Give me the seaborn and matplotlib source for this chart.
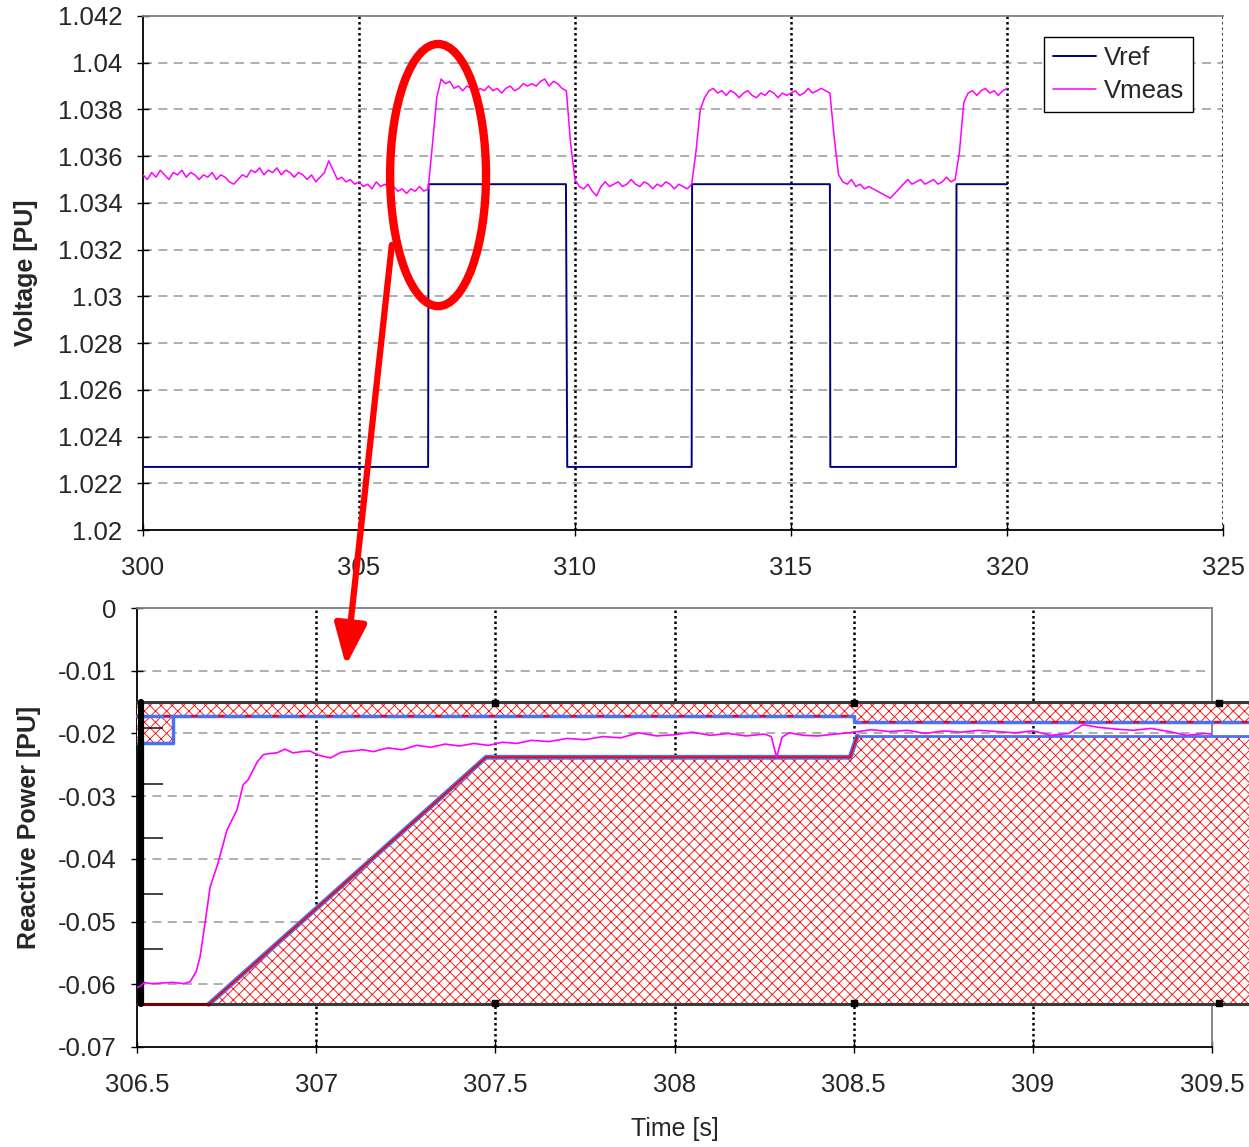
import numpy as np
import matplotlib
matplotlib.use("Agg")
import matplotlib.pyplot as plt
import seaborn as sns
from matplotlib.patches import Ellipse, ConnectionPatch

sns.set_style("white")
plt.rcParams['font.family'] = ['Liberation Sans', 'DejaVu Sans']
plt.rcParams['hatch.linewidth'] = 0.6
plt.rcParams['hatch.color'] = 'red'

# ---- top panel: voltage reference / measured
vref_t = [300.0, 306.6, 306.61, 309.79, 309.82, 312.7, 312.71, 315.9, 315.91, 318.82, 318.83, 320.0]
vref_v = [1.0227, 1.0227, 1.0348, 1.0348, 1.0227, 1.0227, 1.0348, 1.0348, 1.0227, 1.0227, 1.0348, 1.0348]

vmeas_t = np.round(np.arange(300.0, 320.05, 0.1), 1)
vmeas_v = [
    1.0352, 1.0350, 1.0353, 1.0351, 1.0354, 1.0352, 1.0350, 1.0353, 1.0352, 1.0354,
    1.0351, 1.0353, 1.0352, 1.0350, 1.0352, 1.0351, 1.0353, 1.0350, 1.0352, 1.0351,
    1.0349, 1.0348, 1.0350, 1.0352, 1.0351, 1.0354, 1.0353, 1.0355, 1.0352, 1.0354,
    1.0353, 1.0355, 1.0352, 1.0354, 1.0353, 1.0351, 1.0353, 1.0352, 1.0350, 1.0352,
    1.0349, 1.0351, 1.0353, 1.0358, 1.0354, 1.0350, 1.0351, 1.0349, 1.0350, 1.0348,
    1.0349, 1.0347, 1.0348, 1.0346, 1.0349, 1.0347, 1.0348, 1.0346, 1.0347, 1.0345,
    1.0346, 1.0344, 1.0346, 1.0345, 1.0347, 1.0345, 1.0346, 1.0365, 1.0385, 1.0393,
    1.0391, 1.0392, 1.0389, 1.0390, 1.0388, 1.0390, 1.0389, 1.0387, 1.0389, 1.0388,
    1.0390, 1.0388, 1.0389, 1.0387, 1.0389, 1.0390, 1.0388, 1.0389, 1.0391, 1.0390,
    1.0391, 1.0390, 1.0392, 1.0393, 1.0390, 1.0392, 1.0391, 1.0389, 1.0388, 1.0365,
    1.0350, 1.0347, 1.0346, 1.0348, 1.0345, 1.0343, 1.0347, 1.0349, 1.0347, 1.0348,
    1.0349, 1.0347, 1.0348, 1.0350, 1.0348, 1.0347, 1.0349, 1.0348, 1.0346, 1.0348,
    1.0347, 1.0349, 1.0348, 1.0346, 1.0348, 1.0347, 1.0346, 1.0348, 1.0362, 1.0380,
    1.0385, 1.0388, 1.0389, 1.0387, 1.0388, 1.0386, 1.0388, 1.0387, 1.0385, 1.0387,
    1.0388, 1.0386, 1.0385, 1.0387, 1.0386, 1.0388, 1.0387, 1.0385, 1.0387, 1.0386,
    1.0387, 1.0388, 1.0386, 1.0387, 1.0389, 1.0387, 1.0388, 1.0389, 1.0388, 1.0387,
    1.0368, 1.0352, 1.0349, 1.0348, 1.0350, 1.0347, 1.0348, 1.0346, 1.0347, 1.0346,
    1.0345, 1.0344, 1.0343, 1.0342, 1.0344, 1.0346, 1.0348, 1.0350, 1.0348, 1.0349,
    1.0350, 1.0348, 1.0349, 1.0350, 1.0348, 1.0349, 1.0351, 1.0349, 1.0350, 1.0362,
    1.0383, 1.0387, 1.0388, 1.0386, 1.0388, 1.0389, 1.0387, 1.0388, 1.0386, 1.0388,
    1.0389,
]

top_xticks = [300, 305, 310, 315, 320, 325]
top_xlabels = ['300', '305', '310', '315', '320', '325']
top_yticks = [1.02, 1.022, 1.024, 1.026, 1.028, 1.03, 1.032, 1.034, 1.036, 1.038, 1.04, 1.042]
top_ylabels = ['1.02', '1.022', '1.024', '1.026', '1.028', '1.03', '1.032', '1.034', '1.036', '1.038', '1.04', '1.042']

# ---- bottom panel: reactive power
q_t = [306.5, 306.51, 306.52, 306.54, 306.57, 306.6, 306.63, 306.648, 306.665, 306.676,
       306.69, 306.704, 306.726, 306.751, 306.779, 306.796, 306.81, 306.835, 306.852, 306.87,
       306.89, 306.913, 306.935, 306.96, 306.983, 307.002, 307.04, 307.07, 307.1, 307.13,
       307.16, 307.2, 307.24, 307.28, 307.32, 307.36, 307.4, 307.44, 307.48, 307.52,
       307.56, 307.6, 307.65, 307.7, 307.75, 307.8, 307.85, 307.9, 307.95, 308.0,
       308.05, 308.1, 308.15, 308.2, 308.25, 308.27, 308.285, 308.3, 308.32, 308.36,
       308.4, 308.45, 308.5, 308.55, 308.6, 308.65, 308.7, 308.75, 308.8, 308.85,
       308.9, 308.95, 309.0, 309.05, 309.1, 309.14, 309.18, 309.23, 309.28, 309.33,
       309.38, 309.43, 309.48, 309.5]
q_v = [-0.0605, -0.0603, -0.0597, -0.0599, -0.0598, -0.0597, -0.0599, -0.0596, -0.0580, -0.0556,
       -0.0502, -0.0445, -0.0407, -0.0354, -0.0322, -0.0282, -0.0274, -0.0246, -0.0234, -0.0232,
       -0.0231, -0.0225, -0.0231, -0.0229, -0.0228, -0.0234, -0.0239, -0.0230, -0.0228, -0.0226,
       -0.0229, -0.0223, -0.0226, -0.0219, -0.0222, -0.0217, -0.0220, -0.0216, -0.0219, -0.0214,
       -0.0216, -0.0211, -0.0213, -0.0208, -0.0210, -0.0205, -0.0207, -0.0199, -0.0204, -0.0202,
       -0.0198, -0.0203, -0.0200, -0.0204, -0.0201, -0.0205, -0.0238, -0.0206, -0.0199, -0.0203,
       -0.0204, -0.0201, -0.0198, -0.0194, -0.0197, -0.0195, -0.0200, -0.0196, -0.0198, -0.0195,
       -0.0197, -0.0199, -0.0196, -0.0203, -0.0200, -0.0186, -0.0190, -0.0193, -0.0195, -0.0192,
       -0.0197, -0.0203, -0.0200, -0.0201]

# hatched limit regions
band_x = [306.5, 308.5, 308.5, 309.605]
band_hi = [-0.015, -0.015, -0.015, -0.015]
band_lo = [-0.0172, -0.0172, -0.0182, -0.0182]
block_x = [306.5, 306.6]
block_hi = [-0.015, -0.015]
block_lo = [-0.0215, -0.0215]
low_x = [306.7, 307.474, 308.49, 308.51, 309.605]
low_hi = [-0.0632, -0.0238, -0.0238, -0.0204, -0.0204]
low_lo = [-0.0632, -0.0632, -0.0632, -0.0632, -0.0632]
mark_x = [307.5, 308.5, 309.52]
left_ticks_y = [-0.0191, -0.0280, -0.0367, -0.0456, -0.0544]

bot_xticks = [306.5, 307, 307.5, 308, 308.5, 309, 309.5]
bot_xlabels = ['306.5', '307', '307.5', '308', '308.5', '309', '309.5']
bot_yticks = [0, -0.01, -0.02, -0.03, -0.04, -0.05, -0.06, -0.07]
bot_ylabels = ['0', '-0.01', '-0.02', '-0.03', '-0.04', '-0.05', '-0.06', '-0.07']

TICK_FS = 18.5
LABEL_FS = 18


def draw_grid(ax, xs, ys):
    for y in ys:
        ax.axhline(y, color='#a8a8a8', lw=1.3, ls=(0, (5, 3.5)), zorder=0.5)
    for x in xs:
        ax.axvline(x, color='black', lw=1.8, ls=(0, (1, 1.2)), zorder=0.6)


def style_axes(ax):
    ax.tick_params(axis='both', direction='inout', length=8, width=1, color='black',
                   labelsize=TICK_FS, left=True, bottom=True)
    ax.tick_params(axis='y', pad=11)
    ax.tick_params(axis='x', pad=15)
    for s in ['left', 'bottom']:
        ax.spines[s].set_color('black')
        ax.spines[s].set_linewidth(1.3)
    ax.spines['top'].set_color('#808080')
    ax.spines['top'].set_linewidth(1.3)


fig = plt.figure(figsize=(12.49, 11.47), dpi=100)
ax1 = fig.add_axes([0.1145, 0.5379, 0.8647, 0.4482])
ax2 = fig.add_axes([0.1097, 0.0872, 0.8607, 0.3827])

# ---------- top
draw_grid(ax1, [305, 310, 315, 320, 325], top_yticks[1:-1])
sns.lineplot(x=vref_t, y=vref_v, ax=ax1, color='#000080', lw=1.4,
             estimator=None, sort=False, label='Vref', zorder=3)
sns.lineplot(x=vmeas_t, y=vmeas_v, ax=ax1, color='#ff00ff', lw=1.1,
             estimator=None, sort=False, label='Vmeas', zorder=3)
ax1.set_xlim(300, 325)
ax1.set_ylim(1.02, 1.042)
ax1.set_xticks(top_xticks)
ax1.set_xticklabels(top_xlabels)
ax1.set_yticks(top_yticks)
ax1.set_yticklabels(top_ylabels)
ax1.set_xlabel('')
ax1.set_ylabel('Voltage [PU]', fontsize=LABEL_FS, fontweight='bold', labelpad=14)
style_axes(ax1)
ax1.spines['right'].set_visible(False)
leg = ax1.legend(loc='upper right', bbox_to_anchor=(0.972, 0.959), borderaxespad=0,
                 fontsize=TICK_FS, frameon=True, fancybox=False, edgecolor='black',
                 framealpha=1, handlelength=1.65, handletextpad=0.3, borderpad=0.35,
                 labelspacing=0.35)
leg.get_frame().set_linewidth(1.0)

# ---------- bottom
draw_grid(ax2, [307, 307.5, 308, 308.5, 309], bot_yticks[1:-1])
for xs, hi, lo in [(band_x, band_hi, band_lo), (block_x, block_hi, block_lo), (low_x, low_hi, low_lo)]:
    ax2.fill_between(xs, lo, hi, facecolor='white', edgecolor='red', hatch='xxx',
                     linewidth=0, zorder=2.6, clip_on=False)

blue = '#4a72f0'
ax2.plot(band_x, band_lo, color=blue, lw=2.5, zorder=2.7, clip_on=False)
ax2.plot(band_x, band_lo, color='red', lw=1.5, ls=(0, (3, 10)), zorder=2.8, clip_on=False)
ax2.plot([306.5, 306.6, 306.6], [-0.0215, -0.0215, -0.0172], color=blue, lw=2.5, zorder=2.7)
ax2.plot(low_x[:4], low_hi[:4], color=blue, lw=3.5, zorder=2.7, clip_on=False)
ax2.plot(low_x[:4], low_hi[:4], color='red', lw=1.3, zorder=2.8, clip_on=False)
ax2.plot(low_x[3:], low_hi[3:], color=blue, lw=2.0, zorder=2.7, clip_on=False)
ax2.plot([306.5, 309.605], [-0.015, -0.015], color='#3a3a3a', lw=2.2, zorder=2.9, clip_on=False)
ax2.plot([306.5, 309.605], [-0.0632, -0.0632], color='#3a3a3a', lw=2.2, zorder=2.9, clip_on=False)
ax2.plot([306.5, 306.7], [-0.0632, -0.0632], color='#7a0000', lw=2.2, zorder=3)
ax2.hlines(left_ticks_y, 306.517, 306.573, color='#222222', lw=1.2, zorder=3)
ax2.plot([306.51, 306.51], [-0.015, -0.0632], color='black', lw=4.5, zorder=3.1)
ax2.plot(mark_x, [-0.0151] * 3, ls='none', marker='s', ms=5, color='black', zorder=4, clip_on=False)
ax2.plot(mark_x, [-0.0630] * 3, ls='none', marker='s', ms=5, color='black', zorder=4, clip_on=False)

sns.lineplot(x=q_t, y=q_v, ax=ax2, color='#ff00ff', lw=1.2,
             estimator=None, sort=False, zorder=5, legend=False)
ax2.set_xlim(306.5, 309.5)
ax2.set_ylim(-0.07, 0)
ax2.set_xticks(bot_xticks)
ax2.set_xticklabels(bot_xlabels)
ax2.set_yticks(bot_yticks)
ax2.set_yticklabels(bot_ylabels)
ax2.set_xlabel('Time [s]', fontsize=LABEL_FS, labelpad=14)
ax2.set_ylabel('Reactive Power [PU]', fontsize=LABEL_FS, fontweight='bold', labelpad=12)
style_axes(ax2)
ax2.spines['right'].set_color('#808080')
ax2.spines['right'].set_linewidth(1.3)

# ---------- red annotation: ellipse and arrow
ell = Ellipse((306.83, 1.03519), 2.22, 0.01122, fill=False, edgecolor='red', lw=6,
              zorder=10, clip_on=False)
ax1.add_patch(ell)
arrow = ConnectionPatch(xyA=(305.76, 1.0322), coordsA=ax1.transData,
                        xyB=(307.083, -0.0092), coordsB=ax2.transData,
                        arrowstyle='-|>,head_length=0.9,head_width=0.35', mutation_scale=28,
                        color='red', lw=4.5, zorder=10)
fig.add_artist(arrow)

fig.savefig('out.png', dpi=100)
